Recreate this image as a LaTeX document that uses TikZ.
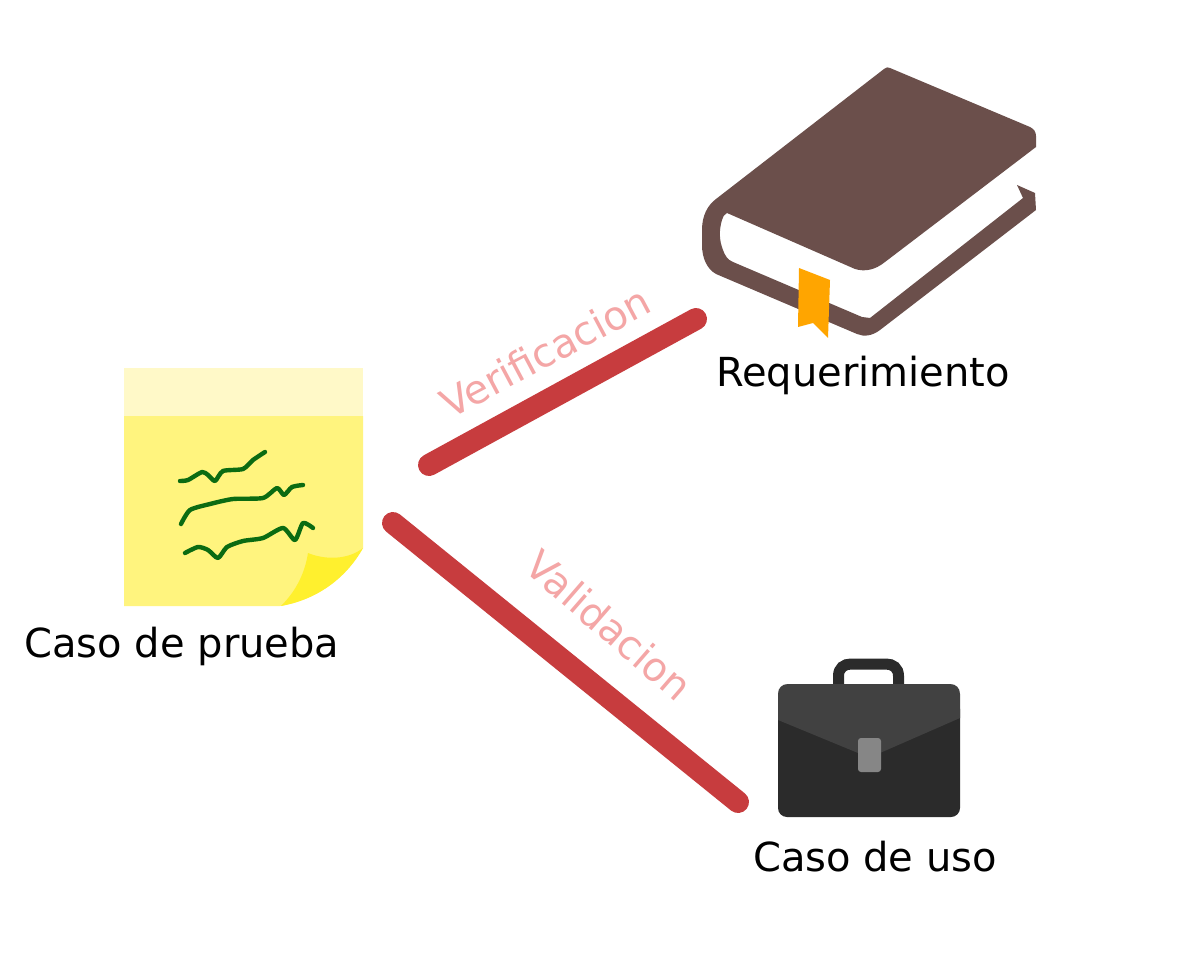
\documentclass[tikz,border=0pt]{standalone}
\usepackage{fontspec}
\setmainfont{DejaVu Sans}
\definecolor{bookbrown}{HTML}{6B4F4B}
\definecolor{ribbon}{HTML}{FFA500}
\definecolor{notemain}{HTML}{FFF47E}
\definecolor{notetop}{HTML}{FFF9C8}
\definecolor{notecurl}{HTML}{FFF02E}
\definecolor{ink}{HTML}{0B6B12}
\definecolor{link}{HTML}{C73C3E}
\definecolor{linklabel}{HTML}{F4A6A6}
\definecolor{caseflap}{HTML}{414141}
\definecolor{casebody}{HTML}{2B2B2B}
\tikzset{
  caption/.style={font=\fontsize{40}{46}\selectfont,text=black,inner sep=0pt,anchor=center},
  linktext/.style={font=\fontsize{40}{46}\selectfont,text=linklabel,inner sep=0pt,anchor=center},
  linkline/.style={line width=22pt,line cap=round,draw=link},
  scribble/.style={draw=ink,line width=4.4pt,line cap=round,line join=round,smooth,tension=0.4}
}
\begin{document}
\begin{tikzpicture}[x=1pt,y=-1pt]
\useasboundingbox (0,0) rectangle (1199,965);
\fill[white] (0,0) rectangle (1199,965);
% note
\fill[notetop] (124,368) rectangle (363,416);
\fill[notemain] (124,416) -- (363,416) -- (363,548) .. controls (345,580) and (315,600) .. (280,606) -- (124,606) -- cycle;
\fill[notecurl] (308,553) .. controls (325,560) and (348,560) .. (363,548) .. controls (345,580) and (315,600) .. (281,606) .. controls (297,590) and (305,572) .. (308,553) -- cycle;
\draw[scribble] plot coordinates {(180,481) (188,480) (202,472) (208,475) (215,481) (223,471) (243,469) (253,460) (265,452)};
\draw[scribble] plot coordinates {(181,524) (190,510) (210,504) (233,499) (263,498) (277,488) (284,495) (292,487) (303,485)};
\draw[scribble] plot coordinates {(185,553) (198,547) (208,550) (218,558) (227,547) (243,541) (263,538) (283,528) (295,540) (303,523) (313,528)};
% book
\fill[bookbrown] (884,69) .. controls (886,67) and (888,67) .. (890,68) -- (1030,127) .. controls (1034,129) and (1036,132) .. (1036,136) -- (1036,147)
  -- (885,262) .. controls (875,270) and (865,272) .. (855,269) -- (727,213) .. controls (724,214) and (723,217) .. (722,220)
  .. controls (719,230) and (719,240) .. (723,250) .. controls (725,256) and (728,260) .. (733,262)
  -- (862,317) -- (870,318) -- (1023,198) -- (1017,185) -- (1035,193) -- (1036,210) -- (880,330)
  .. controls (872,336) and (864,337) .. (857,334) -- (716,274) .. controls (707,269) and (702,258) .. (702,245)
  -- (702,230) .. controls (702,215) and (708,205) .. (716,199) -- cycle;
\fill[ribbon] (799,268) -- (830,280) -- (828,338) -- (813,323) -- (798,327) -- cycle;
% case
\draw[casebody,line width=11pt] (838.5,686) -- (838.5,676) .. controls (838.5,668) and (844,664) .. (851,664) -- (886,664) .. controls (893,664) and (898.5,668) .. (898.5,676) -- (898.5,686);
\fill[casebody,rounded corners=9pt] (778,700) -- (778,817) -- (960,817) -- (960,700) -- cycle;
\fill[caseflap] (778,720) -- (778,694) .. controls (778,688) and (782,684) .. (788,684) -- (950,684) .. controls (956,684) and (960,688) .. (960,694) -- (960,718) -- (880,753) -- (858,753) -- cycle;
\fill[gray!95!white,rounded corners=3pt] (858,738) rectangle (881,772);
% labels
\node[caption] (prueba) at (182,646) {Caso de prueba};
\node[caption] (req) at (863,375) {Requerimiento};
\node[caption] (uso) at (875,857) {Caso de uso};
% connectors
\coordinate (va) at (429,465);
\coordinate (vb) at (696,319);
\coordinate (ca) at (393,523);
\coordinate (cb) at (738,802);
\draw[linkline] (va) -- (vb);
\draw[linkline] (ca) -- (cb);
\node[linktext,rotate=28] (vlabel) at (545,352) {Verificacion};
\node[linktext,rotate=-41] (clabel) at (609,625) {Validacion};
\end{tikzpicture}
\end{document}
